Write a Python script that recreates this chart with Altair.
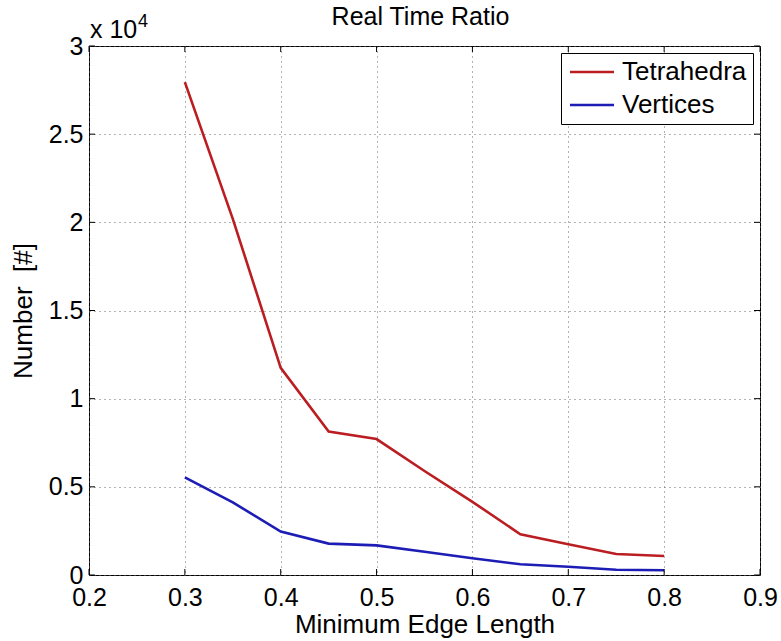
import altair as alt
import pandas as pd

# ---- data ----
min_edge = [0.3, 0.35, 0.4, 0.45, 0.5, 0.55, 0.6, 0.65, 0.7, 0.75, 0.8]
tetrahedra = [27950, 20200, 11750, 8130, 7710, 5900, 4150, 2310, 1740, 1190, 1080]
vertices = [5540, 4120, 2460, 1780, 1680, 1320, 950, 610, 470, 300, 270]
series_names = ["Tetrahedra", "Vertices"]
series_colors = ["#bb1e22", "#1d1db5"]
x_ticks = [0.2, 0.3, 0.4, 0.5, 0.6, 0.7, 0.8, 0.9]
y_ticks = [0, 5000, 10000, 15000, 20000, 25000, 30000]
title_text = "Real Time Ratio"
x_title = "Minimum Edge Length"
y_title = "Number\u00a0 [#]"
exp_base = "x 10"
exp_power = "4"

W, H = 671, 529
FONT = "Liberation Sans"
TICK = 6

df = pd.DataFrame({
    "x": min_edge * 2,
    "y": tetrahedra + vertices,
    "series": [series_names[0]] * len(min_edge) + [series_names[1]] * len(min_edge),
})
xt = pd.DataFrame({"x": x_ticks})
yt = pd.DataFrame({"y": y_ticks})

xscale = alt.Scale(domain=[0.2, 0.9], nice=False, zero=False)
yscale = alt.Scale(domain=[0, 30000], nice=False, zero=False)

x_axis = alt.Axis(
    values=x_ticks, format=".1f", title=x_title, ticks=False, tickSize=0, domain=False,
    labelFontSize=25, labelFont=FONT, labelColor="black", labelPadding=30,
    labelBaseline="alphabetic", labelFlush=False, labelOverlap=False,
    grid=True, gridDash=[1, 4], gridColor="#666666", gridWidth=1, gridOpacity=1,
    titleFontSize=26, titleFont=FONT, titleFontWeight="normal", titleColor="black",
    titleX=W / 2, titleY=57, titleAlign="center", titleBaseline="alphabetic",
)
y_axis = alt.Axis(
    values=y_ticks, labelExpr="datum.value / 10000 + ''", title=y_title, ticks=False,
    tickSize=0, domain=False,
    labelFontSize=25, labelFont=FONT, labelColor="black", labelPadding=6,
    labelBaseline="middle", labelFlush=False, labelOverlap=False,
    grid=True, gridDash=[1, 4], gridColor="#666666", gridWidth=1, gridOpacity=1,
    titleFontSize=26, titleFont=FONT, titleFontWeight="normal", titleColor="black",
    titleX=-58, titleY=H / 2, titleAngle=270, titleAlign="center", titleBaseline="alphabetic",
)

lines = alt.Chart(df).mark_line(strokeWidth=2.6).encode(
    x=alt.X("x:Q", scale=xscale, axis=x_axis),
    y=alt.Y("y:Q", scale=yscale, axis=y_axis),
    color=alt.Color(
        "series:N",
        scale=alt.Scale(domain=series_names, range=series_colors),
        legend=alt.Legend(
            title=None, orient="none", legendX=472, legendY=7,
            symbolType="M-2,0H2", symbolSize=484, symbolStrokeWidth=2.5,
            symbolOffset=12, labelOffset=17, labelFontSize=26, labelFont=FONT,
            labelColor="black", labelLimit=0, rowPadding=7, padding=6,
            strokeColor="black", fillColor="white", cornerRadius=0,
        ),
    ),
    order=alt.Order("x:Q"),
)

tick_rule = dict(color="black", strokeWidth=1)
bottom_ticks = alt.Chart(xt).mark_rule(**tick_rule).encode(
    x=alt.X("x:Q", scale=xscale), y=alt.value(H), y2=alt.value(H - TICK))
top_ticks = alt.Chart(xt).mark_rule(**tick_rule).encode(
    x=alt.X("x:Q", scale=xscale), y=alt.value(0), y2=alt.value(TICK))
left_ticks = alt.Chart(yt).mark_rule(**tick_rule).encode(
    y=alt.Y("y:Q", scale=yscale), x=alt.value(0), x2=alt.value(TICK))
right_ticks = alt.Chart(yt).mark_rule(**tick_rule).encode(
    y=alt.Y("y:Q", scale=yscale), x=alt.value(W), x2=alt.value(W - TICK))

exp_df = pd.DataFrame({"t": [exp_base]})
pow_df = pd.DataFrame({"t": [exp_power]})
title_df = pd.DataFrame({"t": [title_text]})
exp_text = alt.Chart(exp_df).mark_text(
    font=FONT, fontSize=25, align="left", baseline="alphabetic", color="black"
).encode(text="t:N", x=alt.value(1), y=alt.value(-8))
pow_text = alt.Chart(pow_df).mark_text(
    font=FONT, fontSize=18, align="left", baseline="alphabetic", color="black"
).encode(text="t:N", x=alt.value(49), y=alt.value(-19))
title_mark = alt.Chart(title_df).mark_text(
    font=FONT, fontSize=25, align="center", baseline="alphabetic", color="black"
).encode(text="t:N", x=alt.value(W / 2 - 4), y=alt.value(-21))

chart = alt.layer(
    lines, bottom_ticks, top_ticks, left_ticks, right_ticks, exp_text, pow_text, title_mark
).properties(
    width=W, height=H,
    autosize=alt.AutoSizeParams(type="none"),
    padding={"left": 89, "top": 46, "right": 21, "bottom": 66},
    background="white",
).configure_view(
    stroke="black", strokeWidth=1
)

chart.save("out.html", embed_options={"renderer": "svg", "actions": False})
